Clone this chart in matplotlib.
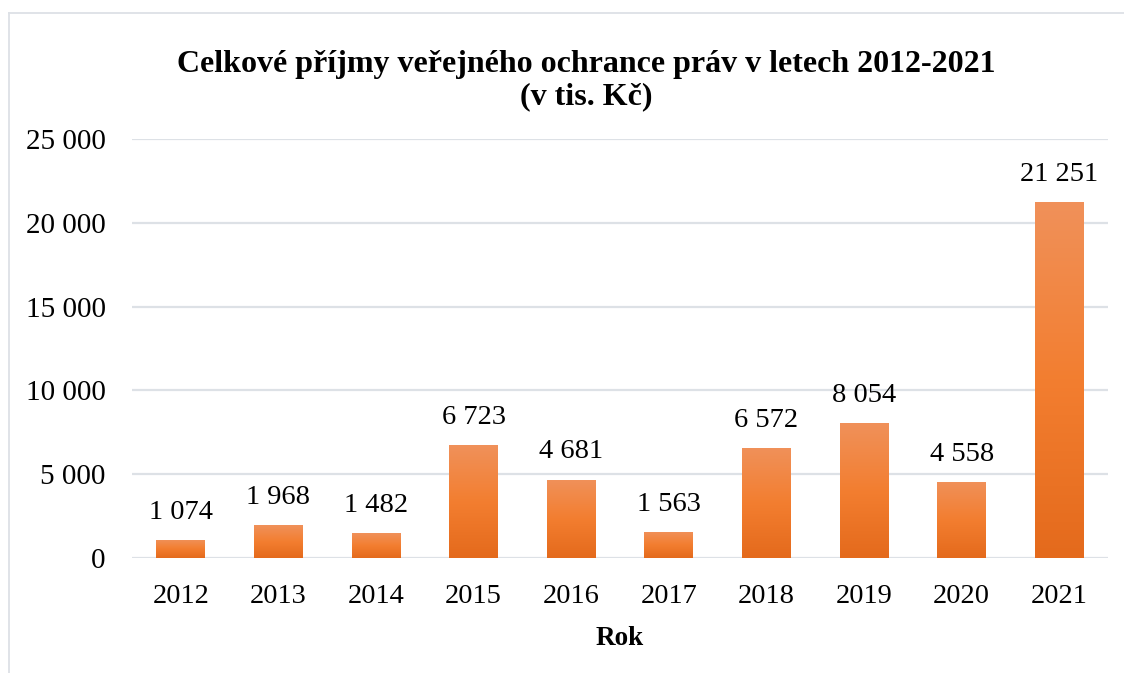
import numpy as np
import matplotlib.pyplot as plt
from matplotlib.colors import LinearSegmentedColormap
from matplotlib.lines import Line2D

# Data
roky = ['2012', '2013', '2014', '2015', '2016', '2017', '2018', '2019', '2020', '2021']
prijmy = [1074, 1968, 1482, 6723, 4681, 1563, 6572, 8054, 4558, 21251]
popisky = ['1 074', '1 968', '1 482', '6 723', '4 681', '1 563', '6 572', '8 054', '4 558', '21 251']
y_ticks = [0, 5000, 10000, 15000, 20000, 25000]
y_labels = ['0', '5 000', '10 000', '15 000', '20 000', '25 000']

plt.rcParams['font.family'] = ['Liberation Serif', 'DejaVu Serif']

fig = plt.figure(figsize=(11.24, 6.73), dpi=100)
ax = fig.add_axes([0.1174, 0.1709, 0.8684, 0.6226])

# outer frame (only top and left edges are visible in the picture)
fx, fy = 8.5 / 1124, 1 - 12.5 / 673
fig.lines.append(Line2D([fx, 1], [fy, fy], transform=fig.transFigure,
                        color='#DDE1E6', linewidth=1.3))
fig.lines.append(Line2D([fx, fx], [0, fy], transform=fig.transFigure,
                        color='#DDE1E6', linewidth=1.3))

x = np.arange(len(roky))
bars = ax.bar(x, prijmy, width=0.5, color='#F37E30', zorder=2)

# gradient for each bar
cmap = LinearSegmentedColormap.from_list('grad', ['#E46A1C', '#F37E30', '#F0915A'])
grad = np.linspace(0, 1, 256).reshape(-1, 1)
for b in bars:
    x0, y0 = b.get_x(), b.get_y()
    im = ax.imshow(grad, cmap=cmap, origin='lower', aspect='auto',
                   extent=[x0, x0 + b.get_width(), y0, y0 + b.get_height()], zorder=3)
    im.set_clip_path(b)

for xi, v, lab in zip(x, prijmy, popisky):
    ax.text(xi, v + 900, lab, ha='center', va='bottom', fontsize=20.5)

ax.set_xlim(-0.5, len(roky) - 0.5)
ax.set_ylim(0, 25000)
ax.set_yticks(y_ticks)
ax.set_yticklabels(y_labels, fontsize=21)
ax.set_xticks(x)
ax.set_xticklabels(roky, fontsize=20.5)
ax.tick_params(length=0)
ax.tick_params(axis='x', pad=19)
ax.tick_params(axis='y', pad=19)
ax.grid(axis='y', color='#DDE1E6', linewidth=1.6, zorder=0)
for s in ax.spines.values():
    s.set_visible(False)

ax.set_xlabel('Rok', fontsize=19.5, fontweight='bold', labelpad=12)
fig.text(0.522, 0.88, 'Celkové příjmy veřejného ochrance práv v letech 2012-2021\n(v tis. Kč)',
         ha='center', va='center', fontsize=23, fontweight='bold', linespacing=1.12)

fig.savefig('out.png', dpi=100)
